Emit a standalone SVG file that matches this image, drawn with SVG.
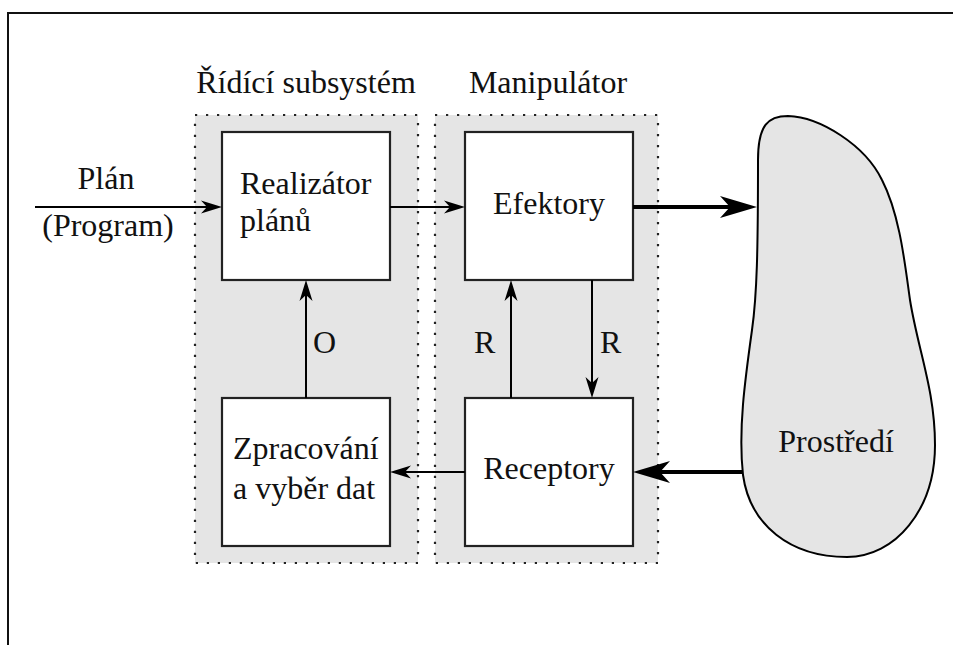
<svg xmlns="http://www.w3.org/2000/svg" width="953" height="645" viewBox="0 0 953 645">
  <style>
    text { font-size: 32px; fill: #111; }
    .mid { text-anchor: middle; }
    .group { fill: #e5e5e5; stroke: #222; stroke-width: 2.2; stroke-dasharray: 2.2 8.8; }
    .box { fill: #fff; stroke: #222; stroke-width: 2.2; }
    .thin { stroke: #000; stroke-width: 2; fill: none; }
    .thick { stroke: #000; stroke-width: 4; fill: none; }
  </style>
  <defs>
    <marker id="head" viewBox="-22 -7 23 14" refX="-6" refY="0" markerWidth="23" markerHeight="14" orient="auto" markerUnits="userSpaceOnUse">
      <path d="M0,0 L-21,-6.5 L-15,0 L-21,6.5 Z" fill="#000"/>
    </marker>
    <marker id="headBig" viewBox="-38 -12 39 24" refX="-12" refY="0" markerWidth="39" markerHeight="24" orient="auto" markerUnits="userSpaceOnUse">
      <path d="M0,0 L-37,-11 L-27,0 L-37,11 Z" fill="#000"/>
    </marker>
  </defs>

  <!-- frame -->
  <path d="M8,645 L8,13 L953,13" fill="none" stroke="#111" stroke-width="2"/>

  <!-- subsystem groups -->
  <g id="ridici-subsystem">
    <rect class="group" x="195" y="115" width="223" height="448"/>
    <text class="mid" x="306" y="93" font-family="Tinos, serif">Řídící subsystém</text>
  </g>
  <g id="manipulator">
    <rect class="group" x="435" y="115" width="223" height="448"/>
    <text class="mid" x="548" y="93" font-family="Tinos, serif">Manipulátor</text>
  </g>

  <!-- nodes -->
  <g id="realizator">
    <rect class="box" x="222" y="132" width="168" height="148"/>
    <text x="240" y="194" font-family="Tinos, serif">Realizátor</text>
    <text x="240" y="231" font-family="Tinos, serif">plánů</text>
  </g>
  <g id="zpracovani">
    <rect class="box" x="222" y="398" width="168" height="148"/>
    <text x="233" y="459" font-family="Tinos, serif">Zpracování</text>
    <text x="233" y="499" font-family="Tinos, serif">a vyběr dat</text>
  </g>
  <g id="efektory">
    <rect class="box" x="465" y="132" width="168" height="148"/>
    <text class="mid" x="549" y="214" font-family="Tinos, serif">Efektory</text>
  </g>
  <g id="receptory">
    <rect class="box" x="465" y="398" width="168" height="148"/>
    <text class="mid" x="549" y="479" font-family="Tinos, serif">Receptory</text>
  </g>
  <g id="prostredi">
    <path d="M758,160 C758,125 768,116 788,116 C820,117 865,145 882,180 C900,215 905,265 910,300 C918,350 935,390 935,445 C935,510 895,557 847,557 C790,557 750,525 743,475 C738,430 745,380 752,330 C757,295 758,250 758,160 Z" fill="#e5e5e5" stroke="#000" stroke-width="2"/>
    <text class="mid" x="836" y="452" font-family="Tinos, serif">Prostředí</text>
  </g>

  <!-- connectors -->
  <g id="connectors">
    <line class="thin" x1="35" y1="207" x2="216" y2="207" marker-end="url(#head)"/>
    <line class="thin" x1="390" y1="207" x2="459" y2="207" marker-end="url(#head)"/>
    <line class="thick" x1="633" y1="207" x2="745" y2="207" marker-end="url(#headBig)"/>
    <line class="thin" x1="306" y1="398" x2="306" y2="286" marker-end="url(#head)"/>
    <line class="thin" x1="511" y1="398" x2="511" y2="286" marker-end="url(#head)"/>
    <line class="thin" x1="592" y1="280" x2="592" y2="392" marker-end="url(#head)"/>
    <line class="thick" x1="743" y1="472" x2="645" y2="472" marker-end="url(#headBig)"/>
    <line class="thin" x1="465" y1="472" x2="396" y2="472" marker-end="url(#head)"/>
  </g>

  <!-- connector labels -->
  <g id="labels">
    <text class="mid" x="106" y="189" font-family="Tinos, serif">Plán</text>
    <text class="mid" x="108" y="236" font-family="Tinos, serif">(Program)</text>
    <text x="313" y="353" font-family="Tinos, serif">O</text>
    <text x="474" y="353" font-family="Tinos, serif">R</text>
    <text x="600" y="353" font-family="Tinos, serif">R</text>
  </g>
</svg>
